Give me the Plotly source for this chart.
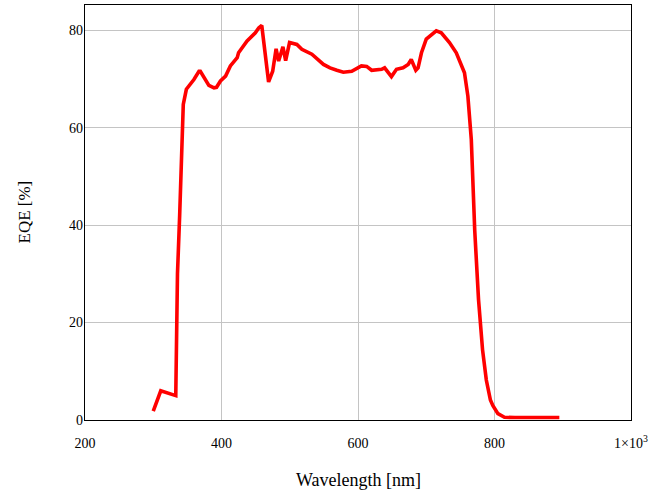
import plotly.graph_objects as go

wavelength = [300, 311, 333, 335, 335.5, 338.7, 342.6, 344, 348.5, 359.6, 367, 369, 381.5, 389, 392.7,
              398.5, 406, 413, 423, 425, 437.5, 449.6, 454.5, 459, 469, 475, 480, 483.7, 490, 494,
              499.7, 510.4, 517.7, 532.4, 549.4, 559, 569, 578.5, 590.8, 605, 612.7, 620, 634.6, 639,
              649, 656.4, 666, 673.5, 678, 684.7, 688, 693, 700, 714.7, 722, 734, 744, 751.4, 756,
              761, 763.5, 766, 771, 776.6, 782.5, 788, 794, 797.5, 805, 814.6, 830, 860, 895]
eqe = [1.8, 6.0, 5.0, 20.0, 30.0, 42.0, 60.0, 64.8, 67.9, 69.9, 71.6, 71.6, 68.7, 68.2, 68.3,
       69.6, 70.6, 72.7, 74.4, 75.4, 77.8, 79.5, 80.5, 81.0, 69.4, 71.6, 76.2, 73.7, 76.6, 73.8,
       77.5, 77.1, 76.1, 75.1, 73.0, 72.3, 71.8, 71.4, 71.6, 72.7, 72.6, 71.8, 72.0, 72.3,
       70.5, 72.0, 72.3, 73.0, 74.0, 71.8, 72.3, 75.4, 78.2, 79.9, 79.5, 77.5, 75.4, 72.7, 71.3,
       66.5, 61.7, 57.6, 39.0, 24.7, 14.4, 8.2, 4.1, 3.0, 1.3, 0.55, 0.5, 0.5, 0.5]

x_tickvals = [200, 400, 600, 800, 1000]
x_ticktext = ["200", "400", "600", "800", "1×10<sup>3</sup>"]
y_tickvals = [0, 20, 40, 60, 80]
x_title = "Wavelength [nm]"
y_title = "EQE [%]"

fig = go.Figure()
fig.add_trace(go.Scatter(x=wavelength, y=eqe, mode="lines",
                         line=dict(color="#ff0000", width=3.6), showlegend=False))

font_family = "Liberation Serif"
fig.update_layout(
    width=650, height=490,
    margin=dict(l=85, r=19, t=5, b=70, autoexpand=False),
    paper_bgcolor="white", plot_bgcolor="white",
    font=dict(family=font_family, size=14, color="black"),
    xaxis=dict(range=[200, 1000], tickvals=x_tickvals, ticktext=x_ticktext,
               showgrid=True, gridcolor="#c4c4c4", gridwidth=1,
               showline=True, linecolor="black", linewidth=1.3, mirror=True,
               ticks="", ticklabelstandoff=10, zeroline=False, automargin=False),
    yaxis=dict(range=[0, 85.2], tickvals=y_tickvals,
               showgrid=True, gridcolor="#c4c4c4", gridwidth=1,
               showline=True, linecolor="black", linewidth=1.3, mirror=True,
               ticks="", ticklabelstandoff=-2, zeroline=False, automargin=False),
    annotations=[
        dict(text=x_title, xref="paper", yref="paper", x=0.5, y=0, yshift=-60,
             xanchor="center", yanchor="middle", showarrow=False,
             font=dict(size=18, family=font_family)),
        dict(text=y_title, xref="paper", yref="paper", x=0, y=0.5, xshift=-61,
             xanchor="center", yanchor="middle", showarrow=False, textangle=-90,
             font=dict(size=17, family=font_family)),
    ],
)

fig.write_html("out.html", config={"displayModeBar": False},
               post_script="document.body.style.margin='0';document.body.style.overflow='hidden';")
